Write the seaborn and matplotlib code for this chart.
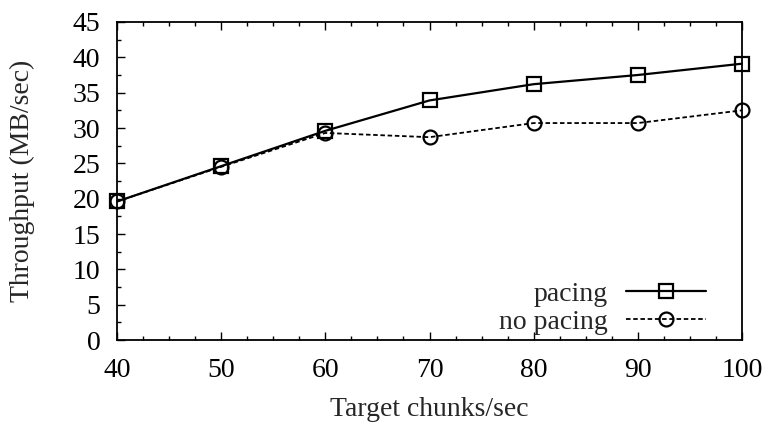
import matplotlib
matplotlib.use("Agg")
import matplotlib.pyplot as plt
import seaborn as sns
import pandas as pd
from matplotlib.ticker import MultipleLocator
from matplotlib.lines import Line2D

x_vals = [40, 50, 60, 70, 80, 90, 100]
pacing = [19.6, 24.6, 29.6, 33.9, 36.2, 37.5, 39.1]
no_pacing = [19.6, 24.5, 29.3, 28.7, 30.7, 30.7, 32.5]
series_names = ["pacing", "no pacing"]

sns.set_theme(style="ticks")
plt.rcParams["font.family"] = ["Liberation Serif", "DejaVu Serif"]

FS = 20

df = pd.DataFrame({
    "x": x_vals * 2,
    "y": pacing + no_pacing,
    "series": [series_names[0]] * len(x_vals) + [series_names[1]] * len(x_vals),
})

fig = plt.figure(figsize=(7.69, 4.24), dpi=100)
ax = fig.add_axes([117 / 769, 1 - 340 / 424, (742 - 117) / 769, (340 - 22) / 424])

sns.lineplot(data=df, x="x", y="y", hue="series", style="series",
             palette={"pacing": "black", "no pacing": "black"},
             dashes={"pacing": "", "no pacing": (2.5, 1.5)},
             markers={"pacing": "s", "no pacing": "o"},
             markersize=10, markerfacecolor="none", markeredgecolor="black",
             markeredgewidth=1.6, linewidth=1.6, ax=ax, legend=False)
for ln in ax.get_lines():
    if ln.get_linestyle() not in ("-", "solid"):
        ln.set_linewidth(1.3)
    ln.set_clip_on(False)

ax.set_xlim(40, 100)
ax.set_ylim(0, 45)
ax.xaxis.set_major_locator(MultipleLocator(10))
ax.xaxis.set_minor_locator(MultipleLocator(2.5))
ax.yaxis.set_major_locator(MultipleLocator(5))
ax.yaxis.set_minor_locator(MultipleLocator(2.5))
ax.tick_params(which="both", direction="in", top=True, right=False,
               labelsize=FS, width=1, colors="black")
ax.tick_params(axis="x", pad=13)
ax.tick_params(axis="y", pad=12)
ax.tick_params(which="major", length=6)
ax.tick_params(which="minor", length=3)
for s in ax.spines.values():
    s.set_visible(True)
    s.set_linewidth(1.3)
    s.set_color("black")

ax.set_xlabel("Target chunks/sec", fontsize=FS, labelpad=10)
ax.set_ylabel("Throughput (MB/sec)", fontsize=FS, labelpad=27)

handles = [
    Line2D([], [], color="black", linewidth=1.6, marker="s", markersize=10,
           markerfacecolor="none", markeredgewidth=1.6),
    Line2D([], [], color="black", linewidth=1.3, linestyle=(0, (2.5, 1.5)), marker="o",
           markersize=10, markerfacecolor="none", markeredgewidth=1.6),
]
leg = ax.legend(handles, series_names, loc="lower right", frameon=False,
                fontsize=FS, markerfirst=False, handlelength=2.9,
                handletextpad=0.65, labelspacing=0.1, borderpad=0,
                bbox_to_anchor=(720 / 769, 1 - 349 / 424),
                bbox_transform=fig.transFigure)
for t in leg.get_texts():
    t.set_ha("right")
leg._legend_box.align = "right"

fig.savefig("out.png", dpi=100)
